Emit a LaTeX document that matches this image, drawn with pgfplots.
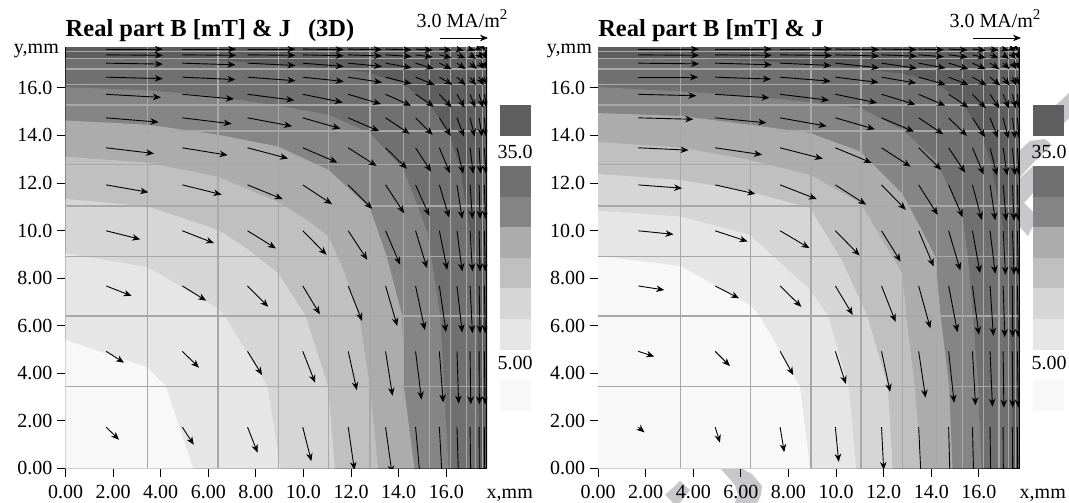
\documentclass[border=0pt]{standalone}
\usepackage{pgfplots}
\pgfplotsset{compat=1.18}
\usepackage{fontspec}
\setmainfont{Liberation Serif}
\usetikzlibrary{arrows.meta}
\definecolor{c0}{HTML}{F8F8F8}
\definecolor{c1}{HTML}{E6E6E6}
\definecolor{c2}{HTML}{D6D6D6}
\definecolor{c3}{HTML}{C0C0C0}
\definecolor{c4}{HTML}{ACACAC}
\definecolor{c5}{HTML}{858585}
\definecolor{c6}{HTML}{707070}
\definecolor{c7}{HTML}{5E5E5E}
\definecolor{gl}{HTML}{A8A8A8}
\definecolor{wm}{HTML}{C8C8CB}
\newcommand\tf{\fontsize{20}{22}\selectfont}
\newcommand\sq{\raisebox{0.42em}{\fontsize{15}{16}\selectfont 2}}
\pgfplotsset{panel/.style={
  scale only axis,width=421.7pt,height=421.3pt,
  xmin=0,xmax=17.72,ymin=0,ymax=17.72,
  axis x line*=bottom,axis y line*=left,
  axis line style={line width=1pt,black,-},
  tick align=outside,major tick length=8.5pt,
  tick style={black,line width=0.9pt},
  xtick={0,2,4,6,8,10,12,14,16},ytick={0,2,4,6,8,10,12,14,16},
  xticklabels={0.00,2.00,4.00,6.00,8.00,10.0,12.0,14.0,16.0},
  yticklabels={0.00,2.00,4.00,6.00,8.00,10.0,12.0,14.0,16.0},
  tick label style={font=\tf},
  x tick label style={yshift=-5pt},
  y tick label style={xshift=-1pt},
  unbounded coords=jump},
  ar/.style={black,line width=0.9pt,
   quiver={u=\thisrow{u},v=\thisrow{v},every arrow/.append style={-{Stealth[length=8pt,width=6.5pt,inset=2.5pt]}}}},
  sw/.style={scale only axis,width=31pt,height=503pt,hide axis,xmin=0,xmax=1,ymin=0,ymax=503,clip=false}}
\newcommand\gridlines{
 \addplot[gl,line width=1.3pt] coordinates {
 (3.45,0)(3.45,17.72)(nan,nan)(6.41,0)(6.41,17.72)(nan,nan)(8.94,0)(8.94,17.72)(nan,nan)
 (11.05,0)(11.05,17.72)(nan,nan)(12.79,0)(12.79,17.72)(nan,nan)(14.21,0)(14.21,17.72)(nan,nan)
 (15.31,0)(15.31,17.72)(nan,nan)(16.18,0)(16.18,17.72)(nan,nan)(16.84,0)(16.84,17.72)(nan,nan)
 (17.24,0)(17.24,17.72)(nan,nan)(17.53,0)(17.53,17.72)(nan,nan)
 (0,3.45)(17.72,3.45)(nan,nan)(0,6.41)(17.72,6.41)(nan,nan)(0,8.92)(17.72,8.92)(nan,nan)
 (0,11.03)(17.72,11.03)(nan,nan)(0,12.79)(17.72,12.79)(nan,nan)(0,14.19)(17.72,14.19)(nan,nan)
 (0,15.28)(17.72,15.28)(nan,nan)(0,16.15)(17.72,16.15)(nan,nan)(0,16.79)(17.72,16.79)(nan,nan)
 (0,17.25)(17.72,17.25)(nan,nan)(0,17.54)(17.72,17.54)};
 \addplot[black,line width=1.6pt] coordinates {(17.72,0)(17.72,17.72)};
}
\newcommand\swatches{
 \addplot[fill=c7,draw=none] coordinates {(0,367)(1,367)(1,398)(0,398)};
 \addplot[fill=c6,draw=none] coordinates {(0,306.3)(1,306.3)(1,337)(0,337)};
 \addplot[fill=c5,draw=none] coordinates {(0,276)(1,276)(1,306.3)(0,306.3)};
 \addplot[fill=c4,draw=none] coordinates {(0,245.3)(1,245.3)(1,276)(0,276)};
 \addplot[fill=c3,draw=none] coordinates {(0,215.3)(1,215.3)(1,245.3)(0,245.3)};
 \addplot[fill=c2,draw=none] coordinates {(0,184)(1,184)(1,215.3)(0,215.3)};
 \addplot[fill=c1,draw=none] coordinates {(0,153)(1,153)(1,184)(0,184)};
 \addplot[fill=c0,draw=none] coordinates {(0,92)(1,92)(1,123)(0,123)};
}
\begin{document}
\begin{tikzpicture}[x=1pt,y=1pt]
\path[use as bounding box] (0,0) rectangle (1069,503);
% watermark strokes behind the right-hand panel
\fill[wm] (665,8)--(680,22)--(690,13)--(680,0)--(673,0)--cycle;
\fill[wm] (720,35)--(741,35)--(752,29)--(762,17)--(761,8)--(757,0)--(735,0)--(738,8)--(735,18)--cycle;
\fill[wm] (1056,398)--(1069,410)--(1069,385)--(1064,380)--cycle;
\fill[wm] (1020,326)--(1036,343)--(1052,358)--(1045,364)--(1030,362)--(1020,353)--cycle;
\fill[wm] (1020,325)--(1033,337)--(1033,310)--(1024,300)--(1033,291)--(1033,277)--(1028,267)--(1020,276)--cycle;

\begin{axis}[panel,at={(65.5pt,34.7pt)},anchor=south west]
\addplot[fill=c7,draw=none] coordinates {(0,0)(17.72,0)(17.72,17.72)(0,17.72)};
\addplot[fill=c6,draw=none] coordinates {(0,0)(17.4,0)(17.35,3.45)(17.3,6.41)(17.2,8.9)(16.9,10.5)(16.6,12.55)(16.08,14.2)(15.3,15.28)(14.15,16.2)(12.7,16.65)(11.05,16.82)(8.94,17.0)(5.15,17.22)(0,17.27)};
\addplot[fill=c5,draw=none] coordinates {(0,0)(16.1,0)(15.9,3.45)(15.75,6.41)(15.36,8.9)(15.22,9.9)(14.21,12.55)(12.79,14.1)(11.05,14.87)(8.94,15.25)(6.41,15.63)(3.45,15.9)(0,16.03)};
\addplot[fill=c4,draw=none] coordinates {(0,0)(14.66,0)(14.22,3.45)(14.15,6.41)(13.5,8.9)(12.79,10.94)(11.05,12.55)(8.94,13.53)(6.41,14.03)(3.45,14.45)(0,14.63)};
\addplot[fill=c3,draw=none] coordinates {(0,0)(13.13,0)(12.79,3.45)(12.34,6.41)(11.7,8.3)(11.05,9.75)(10.2,10.4)(8.94,11.2)(6.41,12.26)(3.45,12.86)(0,13.1)};
\addplot[fill=c2,draw=none] coordinates {(0,0)(11.32,0)(11.03,3.45)(10.09,6.41)(8.94,8.2)(7.69,9.19)(6.41,10.03)(3.45,11.01)(0,11.33)};
\addplot[fill=c1,draw=none] coordinates {(0,0)(9.03,0)(8.49,3.45)(6.68,6.41)(6.41,6.73)(3.45,8.46)(0,9.05)};
\addplot[fill=c0,draw=none] coordinates {(0,0)(5.37,0)(4.21,3.45)(3.45,4.24)(0,5.40)};
\gridlines
\addplot[ar] table {
x y u v
1.71 17.63 2.38 0
4.91 17.63 2.26 0
7.65 17.63 2.01 0
9.97 17.63 1.72 -.02
11.88 17.63 1.42 -.02
13.45 17.63 1.09 -.03
14.71 17.63 .72 -.04
15.71 17.63 .52 -.05
16.45 17.63 .29 -.06
17.0 17.63 .2 -.06
17.38 17.63 .12 -.06
17.6 17.63 .05 -.06
1.71 17.39 2.38 -.02
4.91 17.39 2.26 -.02
7.65 17.39 2.01 -.02
9.97 17.39 1.72 -.04
11.88 17.39 1.42 -.05
13.45 17.39 1.09 -.07
14.71 17.39 .72 -.1
15.71 17.39 .52 -.13
16.45 17.39 .36 -.15
17.0 17.39 .25 -.17
17.38 17.39 .17 -.17
17.6 17.39 .07 -.17
1.71 17.04 2.38 -.04
4.91 17.04 2.23 -.07
7.65 17.04 2.01 -.1
9.97 17.04 1.72 -.14
11.88 17.04 1.42 -.14
13.45 17.04 1.09 -.2
14.71 17.04 .77 -.24
15.71 17.04 .52 -.25
16.45 17.04 .36 -.25
17.0 17.04 .28 -.24
17.38 17.04 .22 -.24
17.6 17.04 .1 -.24
1.71 16.45 2.38 -.06
4.91 16.45 2.23 -.1
7.65 16.45 2.01 -.15
9.97 16.45 1.72 -.18
11.88 16.45 1.42 -.22
13.45 16.45 1.09 -.28
14.71 16.45 .8 -.32
15.71 16.45 .55 -.32
16.45 16.45 .36 -.34
17.0 16.45 .25 -.34
17.38 16.45 .19 -.34
17.6 16.45 .1 -.34
1.71 15.73 2.3 -.13
4.91 15.73 2.17 -.2
7.65 15.73 1.96 -.25
9.97 15.73 1.68 -.34
11.88 15.73 1.38 -.41
13.45 15.73 1.07 -.48
14.71 15.73 .77 -.52
15.71 15.73 .52 -.55
16.45 15.73 .32 -.56
17.0 15.73 .22 -.56
17.38 15.73 .16 -.56
17.6 15.73 .09 -.56
1.71 14.74 2.2 -.18
4.91 14.74 2.07 -.25
7.65 14.74 1.87 -.35
9.97 14.74 1.58 -.45
11.88 14.74 1.3 -.56
13.45 14.74 1.01 -.67
14.71 14.74 .72 -.72
15.71 14.74 .48 -.76
16.45 14.74 .29 -.79
17.0 14.74 .19 -.79
17.38 14.74 .12 -.79
17.6 14.74 .07 -.79
1.71 13.48 2.01 -.24
4.91 13.48 1.9 -.31
7.65 13.48 1.7 -.45
9.97 13.48 1.45 -.62
11.88 13.48 1.19 -.76
13.45 13.48 .9 -.88
14.71 13.48 .65 -1.0
15.71 13.48 .45 -1.07
16.45 13.48 .26 -1.09
17.0 13.48 .13 -1.09
17.38 13.48 .06 -1.09
17.6 13.48 .07 -1.09
1.71 11.92 1.77 -.31
4.91 11.92 1.65 -.41
7.65 11.92 1.48 -.6
9.97 11.92 1.23 -.81
11.88 11.92 1.01 -1.01
13.45 11.92 .78 -1.19
14.71 11.92 .58 -1.3
15.71 11.92 .41 -1.37
16.45 11.92 .22 -1.43
17.0 11.92 .1 -1.43
17.38 11.92 .04 -1.43
17.6 11.92 .05 -1.43
1.71 9.99 1.43 -.36
4.91 9.99 1.33 -.52
7.65 9.99 1.19 -.74
9.97 9.99 1.0 -1.01
11.88 9.99 .8 -1.22
13.45 9.99 .61 -1.43
14.71 9.99 .48 -1.57
15.71 9.99 .33 -1.64
16.45 9.99 .22 -1.71
17.0 9.99 .1 -1.71
17.38 9.99 .04 -1.71
17.6 9.99 .04 -1.71
1.71 7.67 1.07 -.42
4.91 7.67 1.0 -.62
7.65 7.67 .87 -.88
9.97 7.67 .72 -1.19
11.88 7.67 .58 -1.47
13.45 7.67 .49 -1.68
14.71 7.67 .39 -1.85
15.71 7.67 .28 -1.94
16.45 7.67 .22 -1.96
17.0 7.67 .1 -1.99
17.38 7.67 .04 -1.99
17.6 7.67 .04 -1.99
1.71 4.92 .75 -.48
4.91 4.92 .7 -.69
7.65 4.92 .61 -1.0
9.97 4.92 .52 -1.32
11.88 4.92 .36 -1.63
13.45 4.92 .29 -1.87
14.71 4.92 .25 -2.03
15.71 4.92 .16 -2.15
16.45 4.92 .07 -2.2
17.0 4.92 .03 -2.23
17.38 4.92 .01 -2.23
17.6 4.92 .03 -2.23
1.71 1.73 .54 -.53
4.91 1.73 .48 -.74
7.65 1.73 .42 -1.07
9.97 1.73 .36 -1.43
11.88 1.73 .26 -1.8
13.45 1.73 .27 -1.95
14.71 1.73 .19 -2.1
15.71 1.73 .12 -2.2
16.45 1.73 .07 -2.25
17.0 1.73 .03 -2.3
17.38 1.73 .01 -2.3
17.6 1.73 .01 -2.3
};
\end{axis}
\begin{axis}[sw,at={(499.7pt,0pt)},anchor=south west]
\swatches
\end{axis}

\begin{axis}[panel,at={(598.1pt,34.7pt)},anchor=south west]
\addplot[fill=c7,draw=none] coordinates {(0,0)(17.72,0)(17.72,17.72)(0,17.72)};
\addplot[fill=c6,draw=none] coordinates {(0,0)(17.42,0)(17.38,3.45)(17.3,6.41)(17.2,8.9)(16.95,10.5)(16.5,12.85)(16.05,14.2)(15.3,15.35)(14.15,16.27)(12.75,16.6)(11.02,16.8)(8.91,17.0)(5,17.2)(0,17.25)};
\addplot[fill=c5,draw=none] coordinates {(0,0)(16.11,0)(15.97,3.45)(15.75,6.41)(15.54,8.9)(15.3,10.6)(14.19,12.97)(12.78,14.24)(11.02,15.15)(8.91,15.39)(6.38,15.66)(3.46,15.85)(0,16.03)};
\addplot[fill=c4,draw=none] coordinates {(0,0)(14.89,0)(14.75,3.45)(14.39,6.41)(14.17,8.9)(13.5,10.2)(12.78,11.55)(11.02,13.32)(8.91,14.1)(6.38,14.45)(3.46,14.82)(0,14.94)};
\addplot[fill=c3,draw=none] coordinates {(0,0)(13.6,0)(13.3,3.45)(12.95,6.41)(12.78,8.2)(11.02,11.15)(8.91,12.34)(6.38,12.97)(3.46,13.49)(0,13.72)};
\addplot[fill=c2,draw=none] coordinates {(0,0)(12.38,0)(12.17,3.45)(11.31,6.41)(10.23,8.77)(8.91,10.94)(6.38,11.64)(3.46,12.13)(0,12.38)};
\addplot[fill=c1,draw=none] coordinates {(0,0)(10.85,0)(10.52,3.45)(9.66,6.41)(8.91,7.5)(7.1,9.15)(6.38,9.82)(3.46,10.59)(0,10.84)};
\addplot[fill=c0,draw=none] coordinates {(0,0)(8.91,0)(8.48,3.45)(6.79,6.41)(6.38,6.87)(3.46,8.51)(0,8.93)};
\gridlines
\addplot[ar] table {
x y u v
1.69 17.63 2.55 0
4.92 17.63 2.38 0
7.65 17.63 2.18 0
9.97 17.63 1.84 -.02
11.91 17.63 1.48 -.02
13.47 17.63 1.06 -.03
14.73 17.63 .8 -.04
15.73 17.63 .56 -.05
16.47 17.63 .36 -.06
17.02 17.63 .24 -.06
17.41 17.63 .14 -.06
17.62 17.63 .07 -.06
1.69 17.39 2.55 -.02
4.92 17.39 2.38 -.02
7.65 17.39 2.18 -.03
9.97 17.39 1.84 -.05
11.91 17.39 1.48 -.06
13.47 17.39 1.06 -.08
14.73 17.39 .8 -.1
15.73 17.39 .56 -.13
16.47 17.39 .36 -.15
17.02 17.39 .24 -.17
17.41 17.39 .14 -.17
17.62 17.39 .07 -.17
1.69 17.04 2.55 -.03
4.92 17.04 2.38 -.07
7.65 17.04 2.15 -.1
9.97 17.04 1.84 -.2
11.91 17.04 1.48 -.22
13.47 17.04 1.13 -.21
14.73 17.04 .83 -.25
15.73 17.04 .56 -.25
16.47 17.04 .39 -.25
17.02 17.04 .27 -.25
17.41 17.04 .17 -.25
17.62 17.04 .07 -.25
1.69 16.45 2.51 0
4.92 16.45 2.34 -.08
7.65 16.45 2.12 -.17
9.97 16.45 1.81 -.22
11.91 16.45 1.45 -.25
13.47 16.45 1.13 -.31
14.73 16.45 .83 -.32
15.73 16.45 .6 -.34
16.47 16.45 .43 -.35
17.02 16.45 .27 -.35
17.41 16.45 .17 -.35
17.62 16.45 .07 -.35
1.69 15.73 2.44 -.06
4.92 15.73 2.28 -.15
7.65 15.73 2.05 -.25
9.97 15.73 1.75 -.36
11.91 15.73 1.42 -.43
13.47 15.73 1.12 -.48
14.73 15.73 .83 -.55
15.73 15.73 .56 -.58
16.47 15.73 .39 -.59
17.02 15.73 .24 -.59
17.41 15.73 .14 -.59
17.62 15.73 .07 -.59
1.69 14.74 2.31 -.06
4.92 14.74 2.15 -.21
7.65 14.74 1.95 -.35
9.97 14.74 1.66 -.48
11.91 14.74 1.36 -.58
13.47 14.74 1.03 -.69
14.73 14.74 .77 -.76
15.73 14.74 .53 -.81
16.47 14.74 .33 -.84
17.02 14.74 .22 -.87
17.41 14.74 .11 -.87
17.62 14.74 .07 -.87
1.69 13.48 2.11 -.1
4.92 13.48 1.97 -.29
7.65 13.48 1.79 -.46
9.97 13.48 1.52 -.63
11.91 13.48 1.22 -.79
13.47 13.48 .95 -.93
14.73 13.48 .69 -1.04
15.73 13.48 .47 -1.12
16.47 13.48 .29 -1.16
17.02 13.48 .17 -1.16
17.41 13.48 .11 -1.16
17.62 13.48 .07 -1.16
1.69 11.92 1.84 -.14
4.92 11.92 1.69 -.38
7.65 11.92 1.54 -.6
9.97 11.92 1.29 -.83
11.91 11.92 1.02 -1.05
13.47 11.92 .8 -1.26
14.73 11.92 .59 -1.36
15.73 11.92 .39 -1.47
16.47 11.92 .22 -1.49
17.02 11.92 .13 -1.51
17.41 11.92 .07 -1.51
17.62 11.92 .04 -1.51
1.69 9.99 1.48 -.15
4.92 9.99 1.36 -.45
7.65 9.99 1.23 -.73
9.97 9.99 1.02 -1.04
11.91 9.99 .8 -1.29
13.47 9.99 .63 -1.5
14.73 9.99 .49 -1.67
15.73 9.99 .32 -1.78
16.47 9.99 .22 -1.81
17.02 9.99 .1 -1.85
17.41 9.99 .07 -1.85
17.62 9.99 .04 -1.85
1.69 7.67 1.09 -.17
4.92 7.67 1.0 -.52
7.65 7.67 .89 -.88
9.97 7.67 .73 -1.22
11.91 7.67 .59 -1.51
13.47 7.67 .49 -1.78
14.73 7.67 .37 -1.94
15.73 7.67 .27 -2.05
16.47 7.67 .14 -2.1
17.02 7.67 .07 -2.16
17.41 7.67 .01 -2.16
17.62 7.67 .04 -2.16
1.69 4.92 .67 -.22
4.92 4.92 .62 -.62
7.65 4.92 .55 -1.0
9.97 4.92 .44 -1.37
11.91 4.92 .36 -1.7
13.47 4.92 .29 -1.95
14.73 4.92 .23 -2.16
15.73 4.92 .13 -2.27
16.47 4.92 .1 -2.33
17.02 4.92 .03 -2.37
17.41 4.92 .01 -2.37
17.62 4.92 .04 -2.37
1.69 1.73 .26 -.22
4.92 1.73 .2 -.65
7.65 1.73 .17 -1.05
9.97 1.73 .14 -1.46
11.91 1.73 .09 -1.8
13.47 1.73 .1 -2.1
14.73 1.73 .06 -2.3
15.73 1.73 .06 -2.4
16.47 1.73 .03 -2.4
17.02 1.73 .01 -2.45
17.41 1.73 .01 -2.45
17.62 1.73 .01 -2.45
};
\end{axis}
\begin{axis}[sw,at={(1033pt,0pt)},anchor=south west]
\swatches
\end{axis}

% titles, units and the reference vector
\node[anchor=base west,inner sep=0pt,font=\fontsize{24.5}{26}\selectfont\bfseries] at (65.5,466) {Real part B [mT] \& J\hspace{0.7em}(3D)};
\node[anchor=base west,inner sep=0pt,font=\fontsize{24.5}{26}\selectfont\bfseries] at (598.1,466) {Real part B [mT] \& J};
\node[anchor=base,inner sep=0pt,font=\tf] at (462,475) {3.0 MA/m\sq};
\node[anchor=base,inner sep=0pt,font=\tf] at (995,475) {3.0 MA/m\sq};
\draw[black,line width=0.9pt,-{Stealth[length=8pt,width=6.5pt,inset=2.5pt]}] (440,465)--(488,465);
\draw[black,line width=0.9pt,-{Stealth[length=8pt,width=6.5pt,inset=2.5pt]}] (973,465)--(1021,465);
\node[anchor=base east,inner sep=0pt,font=\tf] at (59,449) {y,mm};
\node[anchor=base east,inner sep=0pt,font=\tf] at (592,449) {y,mm};
\node[anchor=base east,inner sep=0pt,font=\tf] at (533,4) {x,mm};
\node[anchor=base east,inner sep=0pt,font=\tf] at (1066,4) {x,mm};
\node[anchor=center,inner sep=0pt,font=\tf] at (515,351) {35.0};
\node[anchor=center,inner sep=0pt,font=\tf] at (515,140) {5.00};
\node[anchor=center,inner sep=0pt,font=\tf] at (1049,351) {35.0};
\node[anchor=center,inner sep=0pt,font=\tf] at (1049,140) {5.00};
\end{tikzpicture}
\end{document}
